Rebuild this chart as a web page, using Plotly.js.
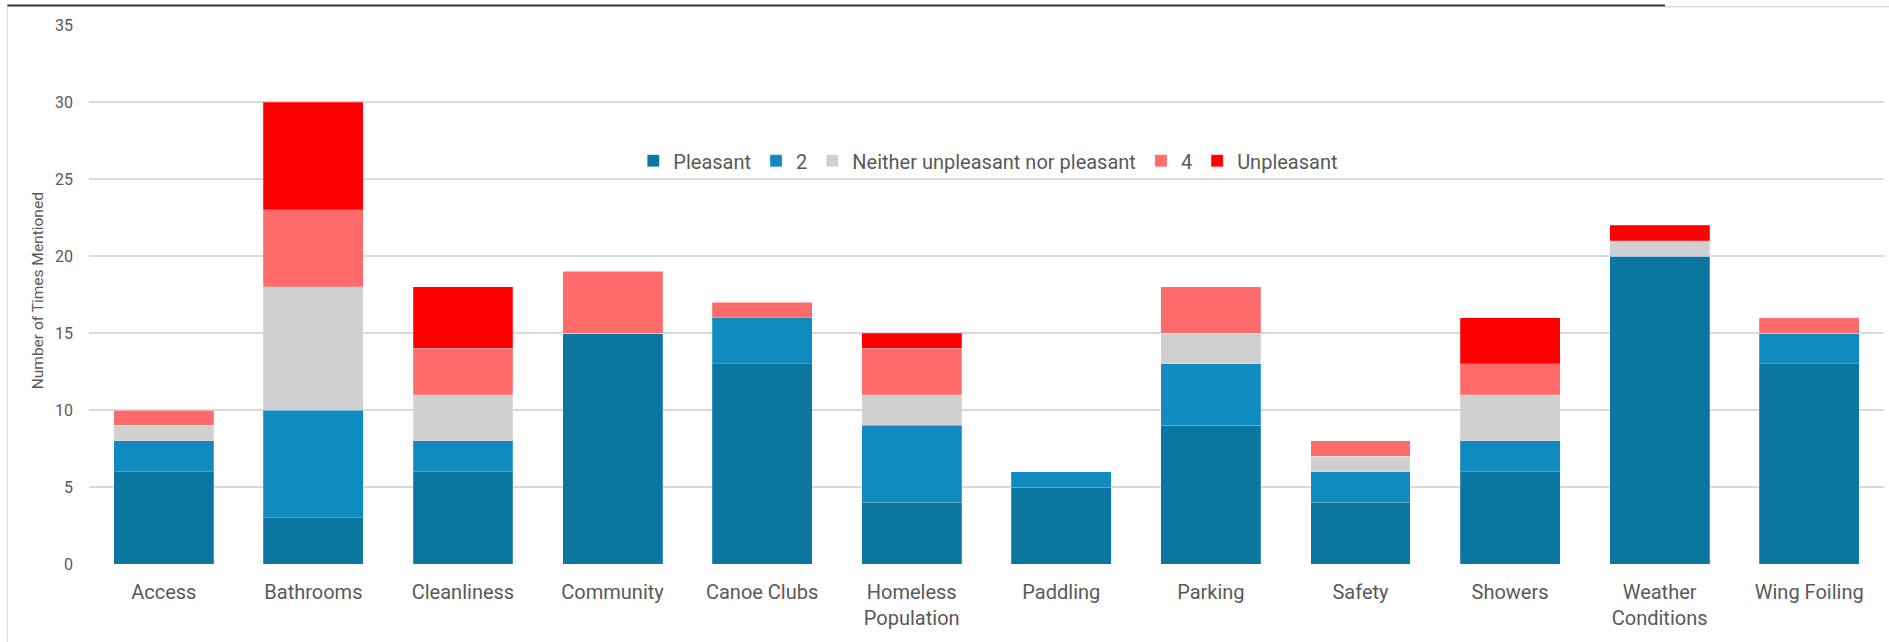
<!DOCTYPE html>
<html>
<head>
<meta charset="utf-8">
<script src="https://cdn.plot.ly/plotly-3.0.1.min.js"></script>
<style>html,body{margin:0;padding:0;background:#fff;}#chart{width:1889px;height:642px;}</style>
</head>
<body>
<div id="chart"></div>
<script>
const categories = ["Access","Bathrooms","Cleanliness","Community","Canoe Clubs","Homeless<br>Population","Paddling","Parking","Safety","Showers","Weather<br>Conditions","Wing Foiling"];
const seriesNames = ["Pleasant","2","Neither unpleasant nor pleasant","4","Unpleasant"];
const pleasant   = [6, 3, 6, 15, 13, 4, 5, 9, 4, 6, 20, 13];
const two        = [2, 7, 2, 0, 3, 5, 1, 4, 2, 2, 0, 2];
const neither    = [1, 8, 3, 0, 0, 2, 0, 2, 1, 3, 1, 0];
const four       = [1, 5, 3, 4, 1, 3, 0, 3, 1, 2, 0, 1];
const unpleasant = [0, 7, 4, 0, 0, 1, 0, 0, 0, 3, 1, 0];
const colors = ["#0B76A0","#0F8BBF","#D0D0D0","#FF6B6B","#FF0000"];
const values = [pleasant, two, neither, four, unpleasant];

const traces = values.map((v, i) => ({
  type: "bar",
  name: seriesNames[i],
  x: categories,
  y: v,
  marker: {color: colors[i], line: {width: 0.6, color: "rgba(255,255,255,0.35)"}},
  hoverinfo: "x+y+name"
}));

const layout = {
  width: 1889, height: 642,
  margin: {l: 89, r: 5, t: 25, b: 78},
  paper_bgcolor: "#ffffff",
  plot_bgcolor: "#ffffff",
  barmode: "stack",
  bargap: 0.332,
  font: {family: "Roboto, 'Open Sans', sans-serif", color: "#595959"},
  xaxis: {
    tickfont: {size: 20, color: "#595959"},
    showgrid: false, zeroline: false, showline: false,
    ticks: "", ticklabelstandoff: 14
  },
  yaxis: {
    range: [0, 35], dtick: 5,
    tickfont: {size: 16, color: "#595959"},
    gridcolor: "#D9D9D9", gridwidth: 1.3,
    zeroline: false, showline: false, ticks: "", ticklabelstandoff: 15
  },
  legend: {
    orientation: "h", x: 0.501, xanchor: "center", y: 0.748, yanchor: "middle",
    font: {size: 20, color: "#595959"},
    bgcolor: "rgba(0,0,0,0)", traceorder: "normal", itemclick: false
  },
  annotations: [{
    text: "Number of Times Mentioned", textangle: -90,
    xref: "paper", yref: "paper", x: -0.0284, y: 0.506,
    xanchor: "center", yanchor: "middle", showarrow: false,
    font: {size: 15.5, color: "#595959"}
  }],
  shapes: [
    {type: "line", xref: "paper", yref: "paper", x0: -0.0455, x1: -0.0455, y0: 1.034, y1: -0.2, line: {color: "#D9D9D9", width: 1}},
    {type: "line", xref: "paper", yref: "paper", x0: 0.878, x1: 1.01, y0: 1.034, y1: 1.034, line: {color: "#D9D9D9", width: 1.5}},
    {type: "line", xref: "paper", yref: "paper", x0: -0.0455, x1: 0.878, y0: 1.036, y1: 1.036, line: {color: "#333333", width: 2}}
  ]
};

Plotly.newPlot("chart", traces, layout, {displayModeBar: false, staticPlot: true});
</script>
</body>
</html>
